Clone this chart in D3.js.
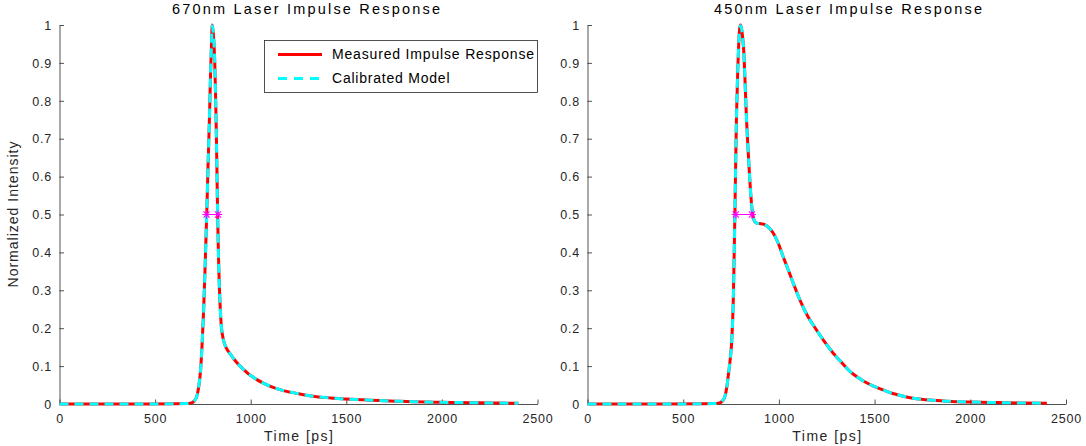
<!DOCTYPE html>
<html>
<head>
<meta charset="utf-8">
<script src="https://cdn.jsdelivr.net/npm/d3@7/dist/d3.min.js"></script>
<style>
  html, body { margin: 0; padding: 0; background: #fff; }
  svg { display: block; font-family: "Liberation Sans", Arial, Helvetica, sans-serif; }
</style>
</head>
<body>
<svg id="chart" width="1086" height="446"></svg>
<script>
// ---- data ----
const xTicks = [0, 500, 1000, 1500, 2000, 2500];
const yTicks = [0, 0.1, 0.2, 0.3, 0.4, 0.5, 0.6, 0.7, 0.8, 0.9, 1];
const yTickLabels = ["0", "0.1", "0.2", "0.3", "0.4", "0.5", "0.6", "0.7", "0.8", "0.9", "1"];

// 670 nm laser: time [ps] and normalized intensity
const time670 = [0, 200, 400, 600, 660, 690, 705, 718, 728, 738, 746, 754, 762, 770, 777, 784, 790, 795, 799, 803, 808, 812, 816, 819, 823, 827, 832, 836, 840, 844, 848, 853, 858, 866, 874, 884, 896, 910, 926, 944, 965, 985, 1000, 1030, 1066, 1110, 1153, 1200, 1240, 1290, 1345, 1420, 1500, 1590, 1676, 1760, 1850, 1930, 2000, 2100, 2200, 2300, 2400];
const measured670 = [0, 0, 0, 0.0005, 0.001, 0.003, 0.008, 0.02, 0.045, 0.09, 0.16, 0.25, 0.37, 0.5, 0.63, 0.75, 0.87, 0.95, 1.0, 0.985, 0.95, 0.9, 0.82, 0.75, 0.63, 0.5, 0.38, 0.31, 0.26, 0.222, 0.197, 0.18, 0.168, 0.155, 0.146, 0.138, 0.13, 0.12, 0.11, 0.1, 0.09, 0.081, 0.075, 0.065, 0.055, 0.045, 0.038, 0.032, 0.028, 0.023, 0.019, 0.016, 0.013, 0.011, 0.009, 0.0075, 0.006, 0.005, 0.0045, 0.0038, 0.003, 0.0025, 0.002];
const model670 = [0, 0, 0, 0.0005, 0.001, 0.003, 0.008, 0.02, 0.046, 0.09, 0.16, 0.25, 0.37, 0.5, 0.63, 0.75, 0.87, 0.95, 0.998, 0.985, 0.95, 0.9, 0.82, 0.75, 0.63, 0.5, 0.38, 0.31, 0.26, 0.222, 0.197, 0.18, 0.168, 0.155, 0.146, 0.138, 0.13, 0.12, 0.11, 0.1, 0.09, 0.081, 0.075, 0.065, 0.055, 0.045, 0.038, 0.032, 0.028, 0.023, 0.019, 0.016, 0.013, 0.011, 0.009, 0.0075, 0.006, 0.005, 0.0045, 0.0038, 0.003, 0.0025, 0.002];
const halfMax670 = [769, 829];

// 450 nm laser: time [ps] and normalized intensity
const time450 = [0, 200, 400, 600, 660, 690, 705, 718, 728, 738, 746, 754, 762, 770, 778, 785, 790, 795, 800, 805, 810, 817, 824, 831, 838, 845, 852, 860, 867, 874, 885, 900, 916, 930, 944, 957, 970, 985, 1000, 1022, 1048, 1075, 1110, 1150, 1197, 1240, 1284, 1330, 1371, 1415, 1458, 1500, 1545, 1580, 1615, 1660, 1702, 1789, 1876, 2000, 2135, 2260, 2400];
const measured450 = [0, 0, 0, 0.0005, 0.001, 0.003, 0.008, 0.02, 0.045, 0.085, 0.12, 0.17, 0.28, 0.5, 0.75, 0.88, 0.95, 0.99, 1.0, 0.99, 0.97, 0.926, 0.84, 0.749, 0.68, 0.617, 0.56, 0.512, 0.49, 0.481, 0.477, 0.476, 0.475, 0.472, 0.467, 0.46, 0.451, 0.437, 0.42, 0.389, 0.355, 0.319, 0.274, 0.232, 0.195, 0.163, 0.134, 0.108, 0.086, 0.069, 0.056, 0.046, 0.037, 0.03, 0.025, 0.019, 0.015, 0.0103, 0.0075, 0.0052, 0.0038, 0.0028, 0.002];
const model450 = [0, 0, 0, 0.0005, 0.001, 0.003, 0.008, 0.02, 0.045, 0.085, 0.12, 0.17, 0.28, 0.5, 0.75, 0.88, 0.95, 0.99, 0.998, 0.99, 0.97, 0.926, 0.84, 0.749, 0.68, 0.617, 0.56, 0.512, 0.49, 0.481, 0.477, 0.476, 0.475, 0.472, 0.467, 0.46, 0.451, 0.437, 0.42, 0.389, 0.355, 0.319, 0.274, 0.232, 0.195, 0.163, 0.134, 0.108, 0.086, 0.069, 0.056, 0.046, 0.037, 0.03, 0.025, 0.019, 0.015, 0.0103, 0.0075, 0.0052, 0.0038, 0.0028, 0.002];
const halfMax450 = [775, 859];

const seriesNames = ["Measured Impulse Response", "Calibrated Model"];

// ---- drawing ----
const svg = d3.select("#chart");
const axisColor = "#262626";
const textColor = "#262626";

const panels = [
  { title: "670nm Laser Impulse Response", titleX: 306, titleLen: 268, x0: 59.5, x1: 537.5,
    time: time670, measured: measured670, model: model670, half: halfMax670, legend: true, ylabel: true },
  { title: "450nm Laser Impulse Response", titleX: 848, titleLen: 268, x0: 587.5, x1: 1066,
    time: time450, measured: measured450, model: model450, half: halfMax450, legend: false, ylabel: false }
];

const yTop = 25, yBottom = 404;

panels.forEach(p => {
  const x = d3.scaleLinear().domain([0, 2500]).range([p.x0, p.x1]);
  const y = d3.scaleLinear().domain([0, 1]).range([yBottom, yTop]);
  const g = svg.append("g");

  // title
  g.append("text")
    .attr("x", p.titleX).attr("y", 14)
    .attr("text-anchor", "middle")
    .attr("font-size", 14.5)
    .attr("fill", "#000")
    .attr("textLength", p.titleLen)
    .attr("lengthAdjust", "spacing")
    .text(p.title);

  // x axis
  const xAxis = d3.axisBottom(x).tickValues(xTicks).tickSize(0).tickFormat(d3.format("d"));
  const gx = g.append("g").attr("transform", `translate(0,${yBottom})`).call(xAxis);
  gx.select(".domain").attr("stroke", axisColor).attr("stroke-width", 0.8);
  gx.selectAll(".tick text")
    .attr("y", 19).attr("dy", 0)
    .attr("font-size", 12.5)
    .attr("letter-spacing", "0.8px")
    .attr("fill", textColor)
    .attr("font-family", "Liberation Sans, Arial, sans-serif");
  gx.selectAll(".tick").append("line")
    .attr("y1", 0).attr("y2", -4.5)
    .attr("stroke", axisColor).attr("stroke-width", 0.8);

  // y axis
  const yAxis = d3.axisLeft(y).tickValues(yTicks).tickSize(0)
    .tickFormat((d, i) => yTickLabels[i]);
  const gy = g.append("g").attr("transform", `translate(${p.x0},0)`).call(yAxis);
  gy.select(".domain").attr("stroke", axisColor).attr("stroke-width", 0.8);
  gy.selectAll(".tick text")
    .attr("x", -7.5).attr("dy", "0.34em")
    .attr("font-size", 12.5)
    .attr("letter-spacing", "0.8px")
    .attr("fill", textColor)
    .attr("font-family", "Liberation Sans, Arial, sans-serif");
  gy.selectAll(".tick").append("line")
    .attr("x1", 0).attr("x2", 4.5)
    .attr("stroke", axisColor).attr("stroke-width", 0.8);

  // x label
  g.append("text")
    .attr("x", (p.x0 + p.x1) / 2).attr("y", 441)
    .attr("text-anchor", "middle")
    .attr("font-size", 14)
    .attr("fill", textColor)
    .attr("textLength", 69)
    .attr("lengthAdjust", "spacing")
    .text("Time [ps]");

  if (p.ylabel) {
    g.append("text")
      .attr("transform", `translate(18,${(yTop + yBottom) / 2}) rotate(-90)`)
      .attr("text-anchor", "middle")
      .attr("font-size", 14)
      .attr("fill", textColor)
      .attr("textLength", 146)
      .attr("lengthAdjust", "spacing")
      .text("Normalized Intensity");
  }

  // curves
  const line = d3.line().x(d => x(d[0])).y(d => y(d[1])).curve(d3.curveMonotoneX);
  const measuredPts = p.time.map((t, i) => [t, p.measured[i]]);
  const modelPts = p.time.map((t, i) => [t, p.model[i]]);

  g.append("path").datum(measuredPts)
    .attr("d", line).attr("fill", "none")
    .attr("stroke", "#ff0000").attr("stroke-width", 3)
    .attr("stroke-linejoin", "round");
  g.append("path").datum(modelPts)
    .attr("d", line).attr("fill", "none")
    .attr("stroke", "#00ffff").attr("stroke-width", 3)
    .attr("stroke-dasharray", "9,6");

  // half-maximum markers
  const hm = g.append("g");
  hm.append("line")
    .attr("x1", x(p.half[0])).attr("x2", x(p.half[1]))
    .attr("y1", y(0.5)).attr("y2", y(0.5))
    .attr("stroke", "#ff00ff").attr("stroke-width", 1);
  const r = 4.2;
  p.half.forEach(t => {
    const cx = x(t), cy = y(0.5);
    const star = hm.append("g").attr("stroke", "#ff00ff").attr("stroke-width", 1.1);
    star.append("line").attr("x1", cx - r).attr("x2", cx + r).attr("y1", cy).attr("y2", cy);
    star.append("line").attr("x1", cx).attr("x2", cx).attr("y1", cy - r).attr("y2", cy + r);
    const d = r * 0.72;
    star.append("line").attr("x1", cx - d).attr("x2", cx + d).attr("y1", cy - d).attr("y2", cy + d);
    star.append("line").attr("x1", cx - d).attr("x2", cx + d).attr("y1", cy + d).attr("y2", cy - d);
  });

  // legend
  if (p.legend) {
    const lg = g.append("g");
    lg.append("rect")
      .attr("x", 264.5).attr("y", 40.5).attr("width", 273).attr("height", 52)
      .attr("fill", "#fff").attr("stroke", axisColor).attr("stroke-width", 0.8);
    const rows = [
      { y: 54.5, color: "#ff0000", dash: null, len: 202 },
      { y: 78.5, color: "#00ffff", dash: "9,7", len: 117.5 }
    ];
    rows.forEach((row, i) => {
      lg.append("line")
        .attr("x1", 278).attr("x2", 322).attr("y1", row.y).attr("y2", row.y)
        .attr("stroke", row.color).attr("stroke-width", 3)
        .attr("stroke-dasharray", row.dash);
      lg.append("text")
        .attr("x", 332).attr("y", row.y).attr("dy", "0.35em")
        .attr("font-size", 14)
        .attr("fill", "#000")
        .attr("textLength", row.len)
        .attr("lengthAdjust", "spacing")
        .text(seriesNames[i]);
    });
  }
});
</script>
</body>
</html>
